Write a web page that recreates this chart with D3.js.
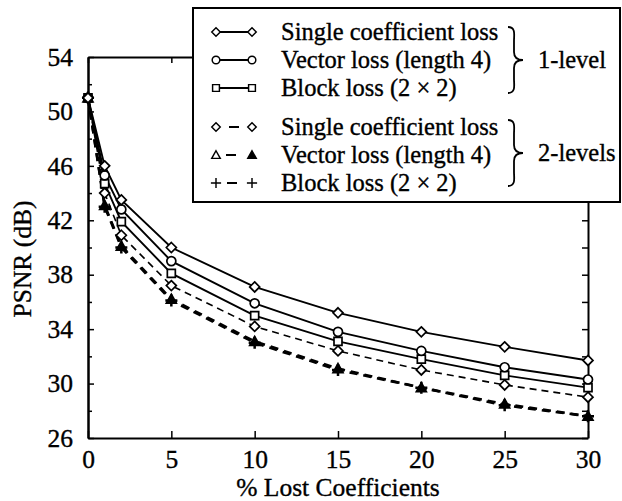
<!DOCTYPE html>
<html>
<head>
<meta charset="utf-8">
<script src="https://cdn.jsdelivr.net/npm/d3@7/dist/d3.min.js"></script>
<style>
  body { margin: 0; background: #fff; }
  svg { display: block; font-family: "Liberation Serif", "Times New Roman", serif; }
  text { stroke: #000; stroke-width: 0.35px; fill: #000; }
</style>
</head>
<body>
<svg id="chart" width="622" height="501"></svg>
<script>
// % of lost coefficients (x) and PSNR in dB for each curve
var lossPct  = [0, 1, 2, 5, 10, 15, 20, 25, 30];
var single1  = [51, 46.0, 43.5, 40.0, 37.1, 35.2, 33.8, 32.7, 31.7];
var vector1  = [51, 45.3, 42.8, 39.0, 35.9, 33.8, 32.4, 31.2, 30.3];
var block1   = [51, 44.7, 41.9, 38.1, 35.0, 33.1, 31.8, 30.6, 29.7];
var single2  = [51, 44.0, 40.9, 37.2, 34.2, 32.4, 31.0, 29.9, 29.0];
var vector2  = [51, 43.1, 40.1, 36.2, 33.1, 31.1, 29.7, 28.5, 27.6];
var block2   = [51, 43.0, 40.0, 36.1, 33.0, 31.0, 29.7, 28.4, 27.6];

var xTicks = [0, 5, 10, 15, 20, 25, 30];
var yTicks = [26, 30, 34, 38, 42, 46, 50, 54];
var yMinor = [28, 32, 36, 40, 44, 48, 52];

var legendLabels = ["Single coefficient loss", "Vector loss (length 4)", "Block loss (2 \u00d7 2)",
                    "Single coefficient loss", "Vector loss (length 4)", "Block loss (2 \u00d7 2)"];
var groupLabels = ["1-level", "2-levels"];

var svg = d3.select("#chart");

var xScale = d3.scaleLinear().domain([0, 30]).range([88, 588]);
var yScale = d3.scaleLinear().domain([26, 54]).range([438, 57]);

// marker shapes
var markers = {
  diamond: "M0,-5L5,0L0,5L-5,0Z",
  circle: "M-4.5,0A4.5,4.5 0 1,0 4.5,0A4.5,4.5 0 1,0 -4.5,0Z",
  square: "M-4,-4H4V4H-4Z",
  triangle: "M0,-5L5,4H-5Z",
  plus: "M-6,0H6M0,-6V6"
};

var series = [
  {values: single2, dash: "7,5", width: 1.6, marker: "diamond", fill: "#fff"},
  {values: vector2, dash: "8,6", width: 2.6, marker: "triangle", fill: "#000"},
  {values: block2,  dash: "8,6", width: 2.6, marker: "plus", fill: "none"},
  {values: block1,  dash: null, width: 1.9, marker: "square", fill: "#fff"},
  {values: vector1, dash: null, width: 1.9, marker: "circle", fill: "#fff"},
  {values: single1, dash: null, width: 1.9, marker: "diamond", fill: "#fff"}
];

// axes (ticks point inward)
function styleAxis(g) {
  g.selectAll("path.domain").attr("stroke", "#000").attr("stroke-width", 2);
  g.selectAll(".tick line").attr("stroke", "#000").attr("stroke-width", 1.5);
  g.selectAll(".tick text").attr("font-size", 25.5).attr("fill", "#000")
    .attr("font-family", "Liberation Serif, Times New Roman, serif");
}

svg.append("g")
  .attr("transform", "translate(88,0)")
  .call(d3.axisLeft(yScale).tickValues(yMinor).tickSize(-4).tickSizeOuter(0).tickFormat(""))
  .call(styleAxis);
svg.append("g")
  .attr("transform", "translate(88,0)")
  .call(d3.axisLeft(yScale).tickValues(yTicks).tickSize(-6).tickSizeOuter(0).tickPadding(15))
  .call(styleAxis);

svg.append("g")
  .attr("transform", "translate(0,438)")
  .call(d3.axisBottom(xScale).tickValues(xTicks).tickSize(-7).tickSizeOuter(0).tickPadding(12))
  .call(styleAxis);

svg.append("g")
  .attr("transform", "translate(0,57)")
  .call(d3.axisTop(xScale).tickValues(xTicks).tickSize(-6).tickSizeOuter(0).tickFormat(""))
  .call(styleAxis);

svg.append("g")
  .attr("transform", "translate(588,0)")
  .call(d3.axisRight(yScale).tickValues(yTicks.concat(yMinor)).tickSize(-6).tickSizeOuter(0).tickFormat(""))
  .call(styleAxis);

// curves
var lineGen = d3.line()
  .x((d, i) => xScale(lossPct[i]))
  .y((d) => yScale(d));

var curves = svg.append("g");
series.forEach(function(s) {
  curves.append("path")
    .attr("d", lineGen(s.values))
    .attr("fill", "none")
    .attr("stroke", "#000")
    .attr("stroke-width", s.width)
    .attr("stroke-dasharray", s.dash);
});
series.forEach(function(s) {
  curves.selectAll(null)
    .data(s.values)
    .join("path")
    .attr("transform", (d, i) => `translate(${xScale(lossPct[i])},${yScale(d)})`)
    .attr("d", markers[s.marker])
    .attr("fill", s.fill)
    .attr("stroke", "#000")
    .attr("stroke-width", s.marker == "plus" ? 2.5 : 1.7);
});

// legend
var legend = svg.append("g");
legend.append("rect")
  .attr("x", 193).attr("y", 8)
  .attr("width", 427).attr("height", 194)
  .attr("fill", "#fff")
  .attr("stroke", "#000")
  .attr("stroke-width", 2);

var rowY = [32, 60, 88, 127, 155, 183];
var legendStyle = [
  {marker: "diamond", dash: null, fillR: "#fff"},
  {marker: "circle", dash: null, fillR: "#fff"},
  {marker: "square", dash: null, fillR: "#fff"},
  {marker: "diamond", dash: "0,13,10,13", fillR: "#fff"},
  {marker: "triangle", dash: "0,10,10,16", fillR: "#000"},
  {marker: "plus", dash: "0,11,10,15", fillR: "none"}
];

legendLabels.forEach(function(lab, i) {
  var st = legendStyle[i];
  var y = rowY[i];
  legend.append("line")
    .attr("x1", 216).attr("x2", 252)
    .attr("y1", y).attr("y2", y)
    .attr("stroke", "#000")
    .attr("stroke-width", 1.8)
    .attr("stroke-dasharray", st.dash);
  [216, 252].forEach(function(x, k) {
    legend.append("path")
      .attr("transform", `translate(${x},${y}) scale(0.85)`)
      .attr("d", markers[st.marker])
      .attr("fill", st.marker == "plus" ? "none" : (k == 0 ? "#fff" : st.fillR))
      .attr("stroke", "#000")
      .attr("stroke-width", 1.7);
  });
  legend.append("text")
    .attr("x", 281).attr("y", y + 8)
    .attr("font-size", 24.5)
    .text(lab);
});

// braces
function brace(top, bottom, x) {
  var mid = (top + bottom) / 2;
  return `M${x - 6},${top} C${x + 2},${top} ${x},${top + 8} ${x},${top + 14}` +
         ` L${x},${mid - 8} C${x},${mid - 2} ${x + 4},${mid} ${x + 9},${mid}` +
         ` C${x + 4},${mid} ${x},${mid + 2} ${x},${mid + 8}` +
         ` L${x},${bottom - 14} C${x},${bottom - 8} ${x + 2},${bottom} ${x - 6},${bottom}`;
}
[[27, 93], [120, 186]].forEach(function(b, i) {
  legend.append("path")
    .attr("d", brace(b[0], b[1], 514))
    .attr("fill", "none")
    .attr("stroke", "#000")
    .attr("stroke-width", 1.8);
  legend.append("text")
    .attr("x", 538).attr("y", (b[0] + b[1]) / 2 + 8)
    .attr("font-size", 24.5)
    .text(groupLabels[i]);
});

// axis titles
svg.append("text")
  .attr("transform", "translate(31,259) rotate(-90)")
  .attr("text-anchor", "middle")
  .attr("font-size", 25.5)
  .text("PSNR (dB)");

svg.append("text")
  .attr("x", 338).attr("y", 496)
  .attr("text-anchor", "middle")
  .attr("font-size", 25.5)
  .text("% Lost Coefficients");
</script>
</body>
</html>
